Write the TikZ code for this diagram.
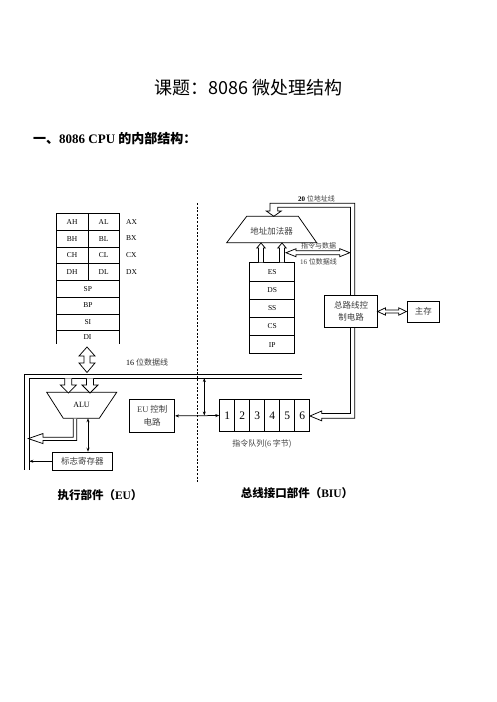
\documentclass[tikz,border=0pt]{standalone}
\usepackage{fontspec}
\setmainfont{Liberation Serif}
\newfontfamily\cjk{Noto Sans CJK SC}
\usetikzlibrary{arrows.meta}
\begin{document}
\begin{tikzpicture}[x=1pt,y=-1pt,
  ln/.style={line width=0.75pt},
  box/.style={draw,line width=0.75pt,fill=white,inner sep=0pt},
  txt/.style={inner sep=0pt},
  zh/.style={inner sep=0pt,text=black!75,align=center,font=\cjk\fontsize{8.5}{12.5}\selectfont},
  zhs/.style={inner sep=0pt,text=black!75,font=\cjk\fontsize{7}{8}\selectfont},
  reg/.style={draw,line width=0.75pt,inner sep=0pt,font=\fontsize{7.5}{9}\selectfont},
  rlab/.style={inner sep=0pt,anchor=west,font=\fontsize{7.5}{9}\selectfont},
  tip/.style={{Stealth[length=4pt,width=3pt]}-{Stealth[length=4pt,width=3pt]},line width=0.75pt},
  tipr/.style={-{Stealth[length=4pt,width=3pt]},line width=0.75pt},
  hol/.style={draw,line width=0.75pt,fill=white,line join=miter},
  head/.style={inner sep=0pt,font=\cjk\bfseries\fontsize{11.5}{13}\selectfont}
]
\useasboundingbox[fill=white] (0,0) rectangle (496,702);

% titles
\node[txt,font=\cjk\fontsize{18}{21}\selectfont] (title) at (248.5,88) {课题：8086 微处理结构};
\node[txt,anchor=west,font=\cjk\bfseries\fontsize{13}{15}\selectfont] (sub) at (33,139) {一、{\rmfamily\bfseries 8086 CPU }的内部结构：};

% general registers
\foreach \a/\b/\c [count=\i from 0] in {AH/AL/AX,BH/BL/BX,CH/CL/CX,DH/DL/DX}{
  \node[reg,minimum width=31.5pt,minimum height=16.7pt,anchor=north west] (\a) at (56,213.3+\i*16.7) {\a};
  \node[reg,minimum width=31.5pt,minimum height=16.7pt,anchor=north west] (\b) at (87.5,213.3+\i*16.7) {\b};
  \node[rlab] (\c) at (126,221.65+\i*16.7) {\c};
}
\foreach \a [count=\i from 4] in {SP,BP,SI}{
  \node[reg,minimum width=63pt,minimum height=16.7pt,anchor=north west] (\a) at (56,213.3+\i*16.7) {\a};
}
\draw[ln] (56,330.1) -- (56,343.5) (119,330.1) -- (119,343.5);
\node[txt,font=\fontsize{7.5}{9}\selectfont] (DI) at (87.5,337.5) {DI};

% dashed divider
\draw[line width=0.75pt,dash pattern=on 2pt off 1.6pt] (197,203) -- (197,483);

% hollow arrow DI <-> bus
\draw[hol] (87,347) -- (95,356) -- (90,356) -- (90,363) -- (95,363) -- (87,372.5)
  -- (79,363) -- (84,363) -- (84,356) -- (79,356) -- cycle;
\node[txt,anchor=west,font=\fontsize{8}{9}\selectfont] (busl) at (126,362.7) {16 {\cjk\color{black!75}位数据线}};

% internal bus
\draw[ln] (302,374) -- (24,374) -- (24,470);
\draw[ln] (302,378) -- (29.3,378) -- (29.3,470);
\coordinate (inl) at (29.3,461.7);

% ALU
\draw[ln,line join=miter] (46.7,392.3) -- (116.7,392.3) -- (99.3,418.3) -- (63.3,418.3) -- cycle;
\node[txt,font=\fontsize{8}{9}\selectfont] (alu) at (81.5,405) {ALU};
\foreach \x in {68.3,90}{
  \draw[hol] (\x-3.5,378.3) -- (\x-3.5,385) -- (\x-8,385) -- (\x,393) -- (\x+8,385) -- (\x+3.5,385) -- (\x+3.5,378.3);
}
% ALU output
\draw[hol] (73.3,418.6) -- (73.3,437.2) -- (43,437.2) -- (43,433.5) -- (28.3,438.6) -- (43,443.6)
  -- (43,440.5) -- (76.8,440.5) -- (76.8,418.6);

% flag register
\node[box,minimum width=59.4pt,minimum height=18.3pt,anchor=north west] (flag) at (52.3,451.7) {};
\node[zh] at (flag.center) {标志寄存器};
\coordinate (alub) at (88,418.3);
\draw[tip] (alub) -- (alub |- flag.north);
\draw[tipr] (flag.west) -- (flag.west -| inl);

% EU control
\node[box,minimum width=45pt,minimum height=32.4pt,anchor=north west] (euc) at (129.3,399.3) {};
\node[zh] at (euc.center) {{\rmfamily EU} 控制\\电路};

% queue
\foreach \i in {1,...,6}{
  \node[reg,minimum width=15pt,minimum height=31.7pt,anchor=north west,font=\fontsize{11.5}{12}\selectfont] (q\i) at (219.3+\i*15-15,399.3) {\i};
}
\node[zh,font=\cjk\fontsize{8}{9}\selectfont] (ql) at (262,444.3) {指令队列({\rmfamily 6} 字节)};
\draw[tip] (euc.east) -- (q1.west);
\coordinate (busj) at (204.3,378);
\draw[tip] (busj) -- (busj |- q1.west);

% BIU channel (20-bit address bus to queue)
\draw[hol] (270,211) -- (270,203.3) -- (354.8,203.3) -- (354.8,418.3) -- (321.7,418.3) -- (321.7,420.8)
  -- (310,416) -- (321.7,411) -- (321.7,413.4) -- (350.5,413.4) -- (350.5,207.3) -- (277.7,207.3)
  -- (277.7,211) -- (281.3,211) -- (273.8,216.3) -- (266.3,211) -- cycle;
\node[txt,font=\fontsize{7}{8}\selectfont\bfseries] (al) at (316.5,199) {20 {\cjk\mdseries\color{black!75}位地址线}};

% address adder
\draw[ln,line join=miter] (246.7,216.3) -- (298.3,216.3) -- (316.7,242.7) -- (226.7,242.7) -- cycle;
\node[zh] (adder) at (271.7,231.5) {地址加法器};

% segment registers
\foreach \s [count=\i from 0] in {ES,DS,SS,CS,IP}{
  \node[reg,minimum width=45pt,minimum height=18.2pt,anchor=north west] (\s) at (249.3,262.3+\i*18.2) {\s};
}
\foreach \x in {261,282}{
  \draw[hol] (\x-2.4,262.3) -- (\x-2.4,248) -- (\x-4.2,248) -- (\x,243) -- (\x+4.2,248) -- (\x+2.4,248) -- (\x+2.4,262.3);
}
\draw[hol] (286,252.7) -- (296,248.7) -- (296,250.7) -- (339.8,250.7) -- (339.8,248.7) -- (349.8,252.7)
  -- (339.8,256.7) -- (339.8,254.7) -- (296,254.7) -- (296,256.7) -- cycle;
\node[zhs] (d1) at (318.5,246.3) {指令与数据};
\node[zhs] (d2) at (318.5,261.5) {{\rmfamily 16} 位数据线};

% bus control & memory
\node[box,minimum width=53.3pt,minimum height=31.7pt,anchor=north west] (bcc) at (324,295) {};
\node[zh,font=\cjk\fontsize{8.5}{12}\selectfont] at (bcc.center) {总路线控\\制电路};
\node[box,minimum width=32.6pt,minimum height=21pt,anchor=north west] (mem) at (406.7,300.7) {};
\node[zh] at (mem.center) {主存};
\draw[hol] (377.6,311.5) -- (385.6,307.8) -- (385.6,310) -- (398.7,310) -- (398.7,307.8) -- (406.4,311.5)
  -- (398.7,315.2) -- (398.7,313) -- (385.6,313) -- (385.6,315.2) -- cycle;

% part labels
\node[head] (eu) at (100,495) {执行部件（{\rmfamily\bfseries EU}）};
\node[head] (biu) at (297,492.7) {总线接口部件（{\rmfamily\bfseries BIU}）};
\end{tikzpicture}
\end{document}
